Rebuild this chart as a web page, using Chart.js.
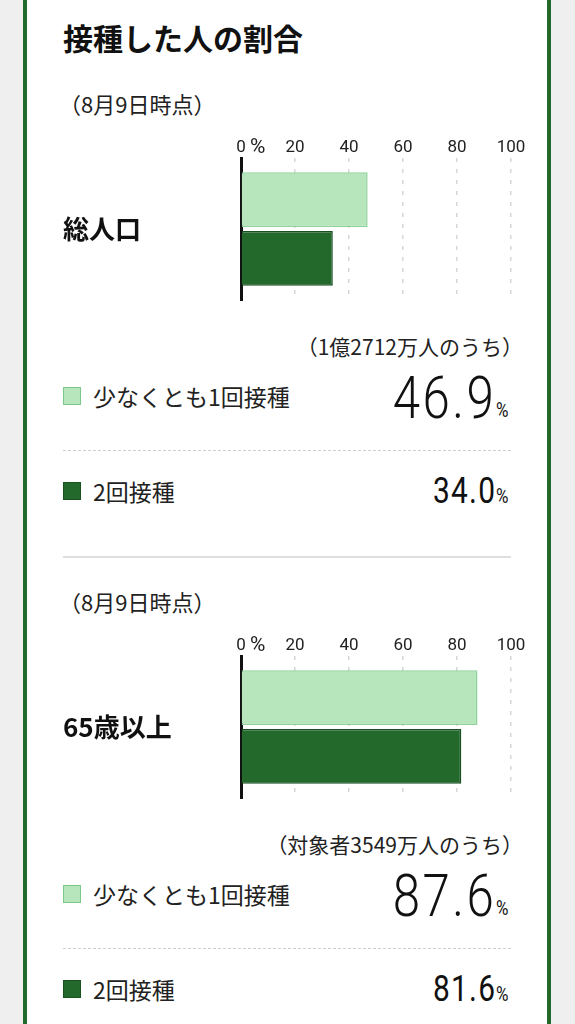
<!DOCTYPE html>
<html lang="ja">
<head>
<meta charset="utf-8">
<title>接種した人の割合</title>
<script src="https://cdn.jsdelivr.net/npm/chart.js@4.4.1/dist/chart.umd.min.js"></script>
<style>
  body {
    margin: 0;
    background: #efefef;
    font-family: "Noto Sans CJK JP", "Noto Sans", sans-serif;
    color: #222;
  }
  .card {
    margin-left: 23px;
    width: 448px;
    min-height: 1024px;
    padding: 19px 36px 0 36px;
    box-sizing: content-box;
    background: #fff;
    border-left: 4px solid #22692b;
    border-right: 4px solid #22692b;
  }
  h1 {
    margin: 0;
    padding-bottom: 5px;
    font-size: 30px;
    line-height: 36px;
    font-weight: 700;
    color: #111;
  }
  .asof { margin-top: 29px; margin-left: -4px; font-size: 22px; line-height: 28px; }
  .chart-wrap { position: relative; margin-top: 9px; width: 470px; height: 180px; }
  .base { margin-top: 27px; margin-right: -12px; font-size: 21px; line-height: 26px; text-align: right; }
  .row { display: flex; align-items: center; justify-content: space-between; }
  .row.first { margin-top: 7px; height: 60px; }
  .row.second { margin-top: 18px; height: 44px; }
  .key { display: flex; align-items: center; font-size: 23px; }
  .sw { display: inline-block; width: 16px; height: 16px; margin-right: 12px; border: 1px solid; }
  .sw.light { background: #b7e6bc; border-color: #7cc887; }
  .sw.dark { background: #22692b; border-color: #1a5222; }
  .val { font-family: Roboto, sans-serif; font-weight: 300; color: #111; white-space: nowrap; }
  .val .num { display: inline-block; transform-origin: right center; position: relative; }
  .val.big .num { font-size: 60px; letter-spacing: 3px; transform: scaleX(0.82); top: 1px; }
  .val.small .num { font-size: 36px; letter-spacing: 1.5px; transform: scaleX(0.83); font-weight: 400; }
  .val small { font-size: 20px; display: inline-block; transform: scaleX(0.85); transform-origin: left center; font-weight: 400; }
  .dash { margin-top: 24px; border-top: 1px dashed #cfcfcf; }
  .sep { margin-top: 43px; border-top: 2px solid #dedede; }
</style>
</head>
<body>
<div class="card" id="card">
  <h1>接種した人の割合</h1>
</div>

<script>
// データ
const groups = ['総人口', '65歳以上'];
const asOfLabels = ['（8月9日時点）', '（8月9日時点）'];
const baseLabels = ['（1億2712万人のうち）', '（対象者3549万人のうち）'];
const seriesNames = ['少なくとも1回接種', '2回接種'];
const atLeastOnce = [46.9, 87.6];
const fullyVaccinated = [34.0, 81.6];
const xTicks = [0, 20, 40, 60, 80, 100];

const tickFont = 'Roboto, sans-serif';
const TICK_SIZE = 17;
const TICK_PAD = 0;

// 0目盛りの右に「%」を添える
const percentMark = {
    id: 'percentMark',
    afterDraw(chart) {
        const x = chart.scales.x;
        const ctx = chart.ctx;
        const y = x.bottom - TICK_PAD - TICK_SIZE * 1.2 / 2;
        ctx.save();
        ctx.font = '21px ' + tickFont;
        ctx.fillStyle = '#222';
        ctx.textAlign = 'left';
        ctx.textBaseline = 'middle';
        ctx.fillText('%', x.getPixelForValue(0) + 9, y);
        ctx.restore();
    }
};

function makeBlock(card, i) {
    const asof = document.createElement('div');
    asof.className = 'asof';
    asof.textContent = asOfLabels[i];
    card.appendChild(asof);

    const wrap = document.createElement('div');
    wrap.className = 'chart-wrap';
    const canvas = document.createElement('canvas');
    wrap.appendChild(canvas);
    card.appendChild(wrap);

    const base = document.createElement('div');
    base.className = 'base';
    base.textContent = baseLabels[i];
    card.appendChild(base);

    const rows = [
        { cls: 'first', sw: 'light', name: seriesNames[0], val: atLeastOnce[i], size: 'big' },
        { cls: 'second', sw: 'dark', name: seriesNames[1], val: fullyVaccinated[i], size: 'small' }
    ];
    rows.forEach((r, k) => {
        if (k === 1) {
            const d = document.createElement('div');
            d.className = 'dash';
            card.appendChild(d);
        }
        const row = document.createElement('div');
        row.className = 'row ' + r.cls;
        row.innerHTML =
            '<span class="key"><i class="sw ' + r.sw + '"></i>' + r.name + '</span>' +
            '<span class="val ' + r.size + '"><span class="num">' + r.val.toFixed(1) +
            '</span><small>%</small></span>';
        card.appendChild(row);
    });

    if (i < groups.length - 1) {
        const sep = document.createElement('div');
        sep.className = 'sep';
        card.appendChild(sep);
    }

    new Chart(canvas.getContext('2d'), {
        type: 'bar',
        data: {
            labels: [groups[i]],
            datasets: [
                {
                    label: seriesNames[0],
                    data: [atLeastOnce[i]],
                    backgroundColor: '#b7e6bc',
                    borderColor: '#8fd39b',
                    borderWidth: 1.5,
                    categoryPercentage: 0.83,
                    barPercentage: 0.93
                },
                {
                    label: seriesNames[1],
                    data: [fullyVaccinated[i]],
                    backgroundColor: '#22692b',
                    borderColor: '#184f20',
                    borderWidth: 1.5,
                    categoryPercentage: 0.83,
                    barPercentage: 0.93
                }
            ]
        },
        options: {
            indexAxis: 'y',
            responsive: true,
            maintainAspectRatio: false,
            animation: false,
            layout: { padding: { top: 0, right: 22, bottom: 6, left: 0 } },
            plugins: {
                legend: { display: false },
                tooltip: { enabled: false }
            },
            scales: {
                x: {
                    position: 'top',
                    min: 0,
                    max: 100,
                    afterBuildTicks: s => { s.ticks = xTicks.map(v => ({ value: v })); },
                    afterFit: s => { s.height = 32; },
                    ticks: {
                        padding: TICK_PAD,
                        color: '#222',
                        font: { family: tickFont, size: TICK_SIZE },
                        maxRotation: 0
                    },
                    grid: {
                        drawTicks: false,
                        lineWidth: 1.5,
                        color: c => (c.tick && c.tick.value === 0) ? 'rgba(0,0,0,0)' : '#d6d6d6'
                    },
                    border: { display: false, dash: [4, 7] }
                },
                y: {
                    afterFit: s => {
                        s.width = 178;
                        s.paddingTop = 0;
                        s.paddingBottom = 0;
                    },
                    ticks: {
                        crossAlign: 'far',
                        padding: 0,
                        color: '#111',
                        font: { family: '"Noto Sans CJK JP"', size: 26, weight: 'bold' }
                    },
                    grid: { display: false, drawTicks: false },
                    border: { color: '#111', width: 3 }
                }
            }
        },
        plugins: [percentMark]
    });
}

const card = document.getElementById('card');
groups.forEach((g, i) => makeBlock(card, i));
</script>
</body>
</html>
